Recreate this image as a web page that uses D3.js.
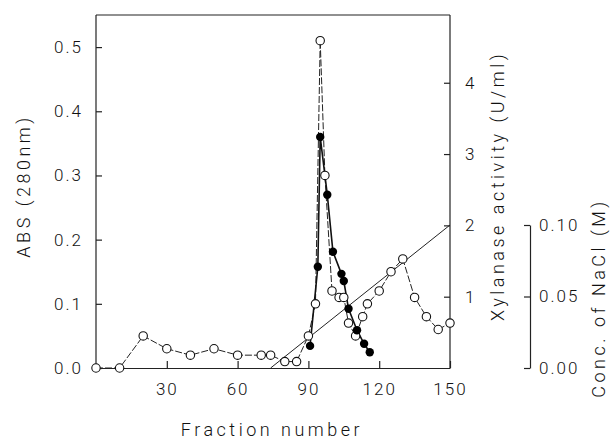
<!DOCTYPE html>
<html><head><meta charset="utf-8">
<script src="https://cdn.jsdelivr.net/npm/d3@7"></script>
<style>
body{margin:0;background:#fff;}
svg{display:block;}
text{font-family:Roboto,"Open Sans","DejaVu Sans",sans-serif;font-weight:300;fill:#111;}
</style></head>
<body>
<svg id="c" width="610" height="440"></svg>
<script>
// ABS (280nm), open circles
const absFractions = [0,10,20,30,40,50,60,70,74,80,85,90,93,95,97,100,103,105,107,110,113,115,120,125,130,135,140,145,150];
const absValues    = [0,0,0.05,0.03,0.02,0.03,0.02,0.02,0.02,0.01,0.01,0.05,0.10,0.51,0.30,0.12,0.11,0.11,0.07,0.05,0.08,0.10,0.12,0.15,0.17,0.11,0.08,0.06,0.07];
// Xylanase activity (U/ml), filled circles
const xylFractions = [90.7,94,95,98,100.4,104,105,107,110.6,113.6,116];
const xylValues    = [0.31,1.42,3.24,2.43,1.63,1.32,1.22,0.83,0.53,0.34,0.22];
// NaCl gradient (M)
const naclFractions = [74,150];
const naclValues    = [0,0.10];
// tick labels
const xTicks = [30,60,90,120,150];
const absTicks = [0,0.1,0.2,0.3,0.4,0.5];
const xylTicks = [1,2,3,4];
const naclTicks = [0,0.05,0.10];

const svg = d3.select("#c");
const L=96, R=450, T=15, B=368;
const x = d3.scaleLinear().domain([0,150]).range([L,R]);
const yA = d3.scaleLinear().domain([0,0.55]).range([B,T]);
const yX = d3.scaleLinear().domain([0,4.95]).range([B,T]);
const yN = d3.scaleLinear().domain([0,0.10]).range([B,225]);

const fs = 17;
// frame
svg.append("line").attr("x1",L).attr("x2",R).attr("y1",T).attr("y2",T).attr("stroke","#222").attr("stroke-width",1.2);

// bottom axis
const gx = svg.append("g").attr("transform",`translate(0,${B})`)
  .call(d3.axisBottom(x).tickValues(xTicks).tickSizeInner(-7).tickSizeOuter(0).tickPadding(15).tickFormat(d3.format("d")));
// left axis
const gl = svg.append("g").attr("transform",`translate(${L},0)`)
  .call(d3.axisLeft(yA).tickValues(absTicks).tickSizeInner(-6).tickSizeOuter(0).tickPadding(13).tickFormat(d3.format(".1f")));
// right axis
const gr = svg.append("g").attr("transform",`translate(${R},0)`)
  .call(d3.axisRight(yX).tickValues(xylTicks).tickSizeInner(-6).tickSizeOuter(0).tickPadding(15).tickFormat(d3.format("d")));
// NaCl bracket axis
const gn = svg.append("g").attr("transform",`translate(530,0)`)
  .call(d3.axisRight(yN).tickValues(naclTicks).tickSizeInner(-6).tickSizeOuter(0).tickPadding(9).tickFormat(d3.format(".2f")));

[gx,gl,gr,gn].forEach(g=>{
  g.selectAll("path.domain").attr("stroke","#222").attr("stroke-width",1.2);
  g.selectAll(".tick line").attr("stroke","#222").attr("stroke-width",1.2);
  g.selectAll("text").style("font-size",fs+"px").style("letter-spacing","2px").attr("fill","#111");
});
gl.select("path.domain").attr("d",`M0,${B}V${T}`);
gr.select("path.domain").attr("d",`M0,${B}V${T}`);

// lines
const lineA = d3.line().x((d,i)=>x(absFractions[i])).y((d,i)=>yA(absValues[i]));
svg.append("path").datum(absValues).attr("d",lineA).attr("fill","none").attr("stroke","#222").attr("stroke-width",1).attr("stroke-dasharray","7,2");
const lineN = d3.line().x((d,i)=>x(naclFractions[i])).y((d,i)=>yN(naclValues[i]));
svg.append("path").datum(naclValues).attr("d",lineN).attr("fill","none").attr("stroke","#222").attr("stroke-width",1);
const lineX = d3.line().x((d,i)=>x(xylFractions[i])).y((d,i)=>yX(xylValues[i]));
svg.append("path").datum(xylValues).attr("d",lineX).attr("fill","none").attr("stroke","#111").attr("stroke-width",1.6);

// points
svg.append("g").selectAll("circle").data(absValues).join("circle")
  .attr("cx",(d,i)=>x(absFractions[i])).attr("cy",d=>yA(d)).attr("r",4.2)
  .attr("fill","#fff").attr("stroke","#111").attr("stroke-width",1.1);
svg.append("g").selectAll("circle").data(xylValues).join("circle")
  .attr("cx",(d,i)=>x(xylFractions[i])).attr("cy",d=>yX(d)).attr("r",4.2)
  .attr("fill","#000");

// titles
svg.append("text").attr("transform","translate(30,186) rotate(-90)").attr("text-anchor","middle")
  .style("font-size","18px").style("letter-spacing","3.5px").text("ABS (280nm)");
svg.append("text").attr("transform","translate(504,186) rotate(-90)").attr("text-anchor","middle")
  .style("font-size","18px").style("letter-spacing","3.5px").text("Xylanase activity (U/ml)");
svg.append("text").attr("transform","translate(605,298) rotate(-90)").attr("text-anchor","middle")
  .style("font-size","18px").style("letter-spacing","3.5px").text("Conc. of NaCl (M)");
svg.append("text").attr("x",272).attr("y",436).attr("text-anchor","middle")
  .style("font-size","18px").style("letter-spacing","3.5px").text("Fraction number");
</script>
</body></html>
